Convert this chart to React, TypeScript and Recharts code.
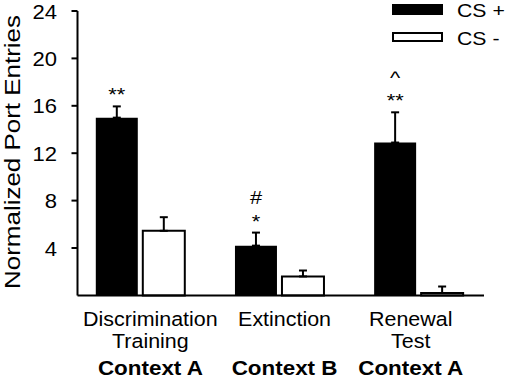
import React from 'react';
import { BarChart, Bar, XAxis, YAxis, ErrorBar, LabelList, Legend } from 'recharts';

const categories = ['Discrimination Training', 'Extinction', 'Renewal Test'];
const categoryLines = [['Discrimination', 'Training'], ['Extinction'], ['Renewal', 'Test']];
const contexts = ['Context A', 'Context B', 'Context A'];
const csPlus = [15.0, 4.2, 12.9];
const csPlusErr = [0.95, 1.1, 2.55];
const csMinus = [5.45, 1.6, 0.2];
const csMinusErr = [1.15, 0.5, 0.55];
const annotUpper = ['', '#', '^'];
const annotLower = ['**', '*', '**'];
const yTicks = [4, 8, 12, 16, 20, 24];
const seriesNames = ['CS +', 'CS -'];
const yLabel = 'Normalized Port Entries';

const data = categories.map((c, i) => ({
  category: c,
  csPlus: csPlus[i],
  csPlusErr: [0, csPlusErr[i]],
  csMinus: csMinus[i],
  csMinusErr: [0, csMinusErr[i]],
}));

const FONT = '"Liberation Sans", Arial, sans-serif';
const xOffsets = [10, 5, -8];

const YTick = (props: any) => {
  const { y, payload } = props;
  return (
    <text
      transform={`translate(57, ${y + 7.5}) scale(1.13, 1)`}
      textAnchor="end"
      fontSize={19.5}
      fontFamily={FONT}
      fill="#000"
    >
      {payload.value}
    </text>
  );
};

const XTick = (props: any) => {
  const { x, y, payload } = props;
  const i = payload.index;
  const lines = categoryLines[i];
  const cx = x + xOffsets[i];
  return (
    <g>
      {lines.map((l, k) => (
        <text
          key={k}
          transform={`translate(${cx}, ${y + 31 + k * 22}) scale(1.1, 1)`}
          textAnchor="middle"
          fontSize={19.5}
          fontFamily={FONT}
          fill="#000"
        >
          {l}
        </text>
      ))}
      <text
        transform={`translate(${cx}, ${y + 80}) scale(1.15, 1)`}
        textAnchor="middle"
        fontSize={19.5}
        fontWeight="bold"
        fontFamily={FONT}
        fill="#000"
      >
        {contexts[i]}
      </text>
    </g>
  );
};

const Annot = (props: any) => {
  const vb = props.viewBox || props;
  const x = vb.x ?? props.x;
  const y = vb.y ?? props.y;
  const width = vb.width ?? props.width;
  const height = Math.abs(vb.height ?? props.height);
  const index = props.index;
  const value = csPlus[index];
  const pxPerUnit = height / value;
  const errTop = y - csPlusErr[index] * pxPerUnit;
  const cx = x + width / 2;
  return (
    <g>
      <text
        transform={`translate(${cx}, ${errTop - 5}) scale(1.15, 1)`}
        textAnchor="middle"
        fontSize={19}
        fontFamily={FONT}
        fill="#000"
      >
        {annotLower[index]}
      </text>
      {annotUpper[index] ? (
        <text
          transform={`translate(${cx}, ${errTop - 28.5}) scale(1.15, 1)`}
          textAnchor="middle"
          fontSize={19}
          fontFamily={FONT}
          fill="#000"
        >
          {annotUpper[index]}
        </text>
      ) : null}
    </g>
  );
};

const YLabel = () => (
  <text
    transform="translate(19.5, 152) rotate(-90) scale(1.18, 1)"
    textAnchor="middle"
    fontSize={22}
    fontFamily={FONT}
    fill="#000"
  >
    {yLabel}
  </text>
);

const LegendBox = () => (
  <svg width={117} height={50} style={{ display: 'block' }}>
    <rect x={2} y={4} width={51} height={11} fill="#000" />
    <rect x={3} y={33} width={49} height={8} fill="#fff" stroke="#000" strokeWidth={2} />
    <text transform="translate(67, 16.5) scale(1.18, 1)" fontSize={18} fontFamily={FONT} fill="#000">
      {seriesNames[0]}
    </text>
    <text transform="translate(67, 44.5) scale(1.18, 1)" fontSize={18} fontFamily={FONT} fill="#000">
      {seriesNames[1]}
    </text>
  </svg>
);

export default function App() {
  return (
    <div style={{ position: 'absolute', left: 0, top: 0, background: '#fff' }}>
      <BarChart
        width={507}
        height={379}
        data={data}
        margin={{ top: 11, right: 23, bottom: 0, left: 0 }}
        barSize={42}
        barGap={5}
      >
        <XAxis
          dataKey="category"
          height={83.6}
          tick={<XTick />}
          tickLine={false}
          tickSize={0}
          tickMargin={0}
          interval={0}
          axisLine={{ stroke: '#000', strokeWidth: 2 }}
          padding={{ left: -6.7, right: -4.3 }}
        />
        <YAxis
          width={77.5}
          domain={[0, 24]}
          ticks={yTicks}
          interval={0}
          tickSize={6}
          tick={<YTick />}
          tickLine={{ stroke: '#000', strokeWidth: 2 }}
          axisLine={{ stroke: '#000', strokeWidth: 2 }}
          label={<YLabel />}
        />
        <Legend
          layout="vertical"
          align="center"
          verticalAlign="middle"
          content={() => <LegendBox />}
          wrapperStyle={{ position: 'absolute', left: 390, top: 0, width: 117, height: 50 }}
        />
        <Bar dataKey="csPlus" name={seriesNames[0]} fill="#000" isAnimationActive={false}>
          <ErrorBar dataKey="csPlusErr" direction="y" width={4} stroke="#000" strokeWidth={2} isAnimationActive={false} />
          <LabelList dataKey="csPlus" content={<Annot />} />
        </Bar>
        <Bar dataKey="csMinus" name={seriesNames[1]} fill="#fff" stroke="#000" strokeWidth={2} isAnimationActive={false}>
          <ErrorBar dataKey="csMinusErr" direction="y" width={4} stroke="#000" strokeWidth={2} isAnimationActive={false} />
        </Bar>
      </BarChart>
    </div>
  );
}
